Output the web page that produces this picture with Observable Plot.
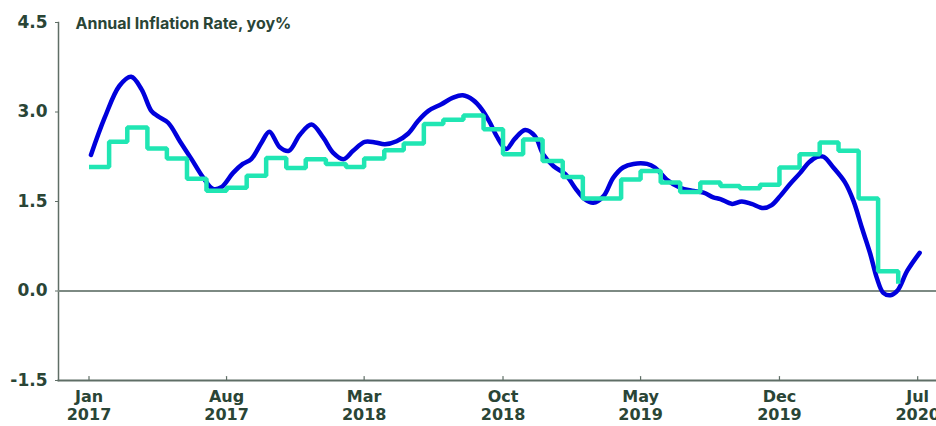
<!DOCTYPE html>
<html>
<head>
<meta charset="utf-8">
<script src="https://cdn.jsdelivr.net/npm/d3@7"></script>
<script src="https://cdn.jsdelivr.net/npm/@observablehq/plot@0.6"></script>
<style>
  html, body { margin: 0; padding: 0; background: #ffffff; }
  #chart svg { display: block; }
</style>
</head>
<body>
<div id="chart"></div>
<script>
// ---- Data ----
const chartTitle = "Annual Inflation Rate, yoy%";

// Monthly CPI yoy (step series), value in effect from each month start
const cpiMonths = [
  "2017-01","2017-02","2017-03","2017-04","2017-05","2017-06","2017-07","2017-08","2017-09","2017-10","2017-11","2017-12",
  "2018-01","2018-02","2018-03","2018-04","2018-05","2018-06","2018-07","2018-08","2018-09","2018-10","2018-11","2018-12",
  "2019-01","2019-02","2019-03","2019-04","2019-05","2019-06","2019-07","2019-08","2019-09","2019-10","2019-11","2019-12",
  "2020-01","2020-02","2020-03","2020-04","2020-05","2020-06"
];
const cpiValues = [
  2.08, 2.50, 2.74, 2.39, 2.22, 1.88, 1.68, 1.73, 1.93, 2.23, 2.06, 2.21,
  2.13, 2.08, 2.22, 2.36, 2.47, 2.80, 2.87, 2.94, 2.71, 2.29, 2.54, 2.18,
  1.91, 1.55, 1.55, 1.87, 2.01, 1.82, 1.66, 1.82, 1.76, 1.72, 1.78, 2.07,
  2.29, 2.49, 2.35, 1.55, 0.33, 0.12
];

const smoothDates = [
  "2017-01-04","2017-01-25","2017-02-17","2017-03-07","2017-03-23","2017-04-07","2017-04-17","2017-05-03",
  "2017-05-21","2017-06-08","2017-06-26","2017-07-11","2017-07-24","2017-08-11","2017-08-26","2017-09-08",
  "2017-09-24","2017-10-06","2017-10-22","2017-11-05","2017-11-22","2017-12-10","2017-12-28","2018-01-12",
  "2018-01-28","2018-02-12","2018-03-02","2018-03-18","2018-04-02","2018-04-20","2018-05-08","2018-05-23",
  "2018-06-08","2018-06-28","2018-07-16","2018-07-31","2018-08-16","2018-08-29","2018-09-11","2018-09-21",
  "2018-10-06","2018-10-19","2018-11-04","2018-11-19","2018-12-02","2018-12-18","2019-01-05","2019-01-20",
  "2019-02-04","2019-02-17","2019-03-05","2019-03-20","2019-04-04","2019-04-20","2019-05-11","2019-05-23",
  "2019-06-10","2019-07-01","2019-07-19","2019-08-06","2019-08-21","2019-09-01","2019-09-19","2019-10-04",
  "2019-10-19","2019-11-06","2019-11-19","2019-12-02","2019-12-17","2020-01-02","2020-01-15","2020-01-28",
  "2020-02-07","2020-02-22","2020-03-11","2020-03-24","2020-04-06","2020-04-19","2020-04-29","2020-05-09",
  "2020-05-20","2020-05-31","2020-06-15","2020-07-04"
];
const smoothValues = [
  2.28, 2.90, 3.44, 3.59, 3.38, 3.02, 2.93, 2.82,
  2.51, 2.21, 1.90, 1.71, 1.74, 1.98, 2.13, 2.21,
  2.49, 2.67, 2.41, 2.35, 2.62, 2.79, 2.57, 2.32,
  2.21, 2.35, 2.50, 2.49, 2.46, 2.51, 2.64, 2.85,
  3.02, 3.13, 3.24, 3.28, 3.20, 3.05, 2.82, 2.60,
  2.38, 2.55, 2.70, 2.60, 2.29, 2.09, 1.96, 1.73,
  1.54, 1.48, 1.59, 1.90, 2.07, 2.13, 2.13, 2.07,
  1.87, 1.73, 1.68, 1.65, 1.57, 1.54, 1.46, 1.50,
  1.46, 1.39, 1.44, 1.59, 1.79, 1.98, 2.15, 2.25,
  2.25, 2.07, 1.82, 1.51, 1.06, 0.62, 0.22, -0.03,
  -0.07, 0.01, 0.34, 0.64
];

const xTickDates = ["2017-01-01","2017-08-01","2018-03-01","2018-10-01","2019-05-01","2019-12-01","2020-07-01"];
const monthNames = ["Jan","Feb","Mar","Apr","May","Jun","Jul","Aug","Sep","Oct","Nov","Dec"];
const yTicks = [-1.5, 0, 1.5, 3.0, 4.5];
const xDomain = ["2016-11-15", "2020-07-30"];
const yDomain = [-1.5, 4.5];

// ---- Build ----
const toDate = s => new Date((s.length === 7 ? s + "-01" : s) + "T00:00:00Z");
const cpi = cpiMonths.map((m, i) => ({date: toDate(m), value: cpiValues[i]}));
const smooth = smoothDates.map((d, i) => ({date: toDate(d), value: smoothValues[i]}));
const xTicks = xTickDates.map(toDate);

const ink = "#2a4536";
const axisColor = "#5f6e66";
const blue = "#0000dc";
const green = "#20e6b3";

const tickUp = { draw(context, l) { context.moveTo(0, 0); context.lineTo(0, -l); } };

const chart = Plot.plot({
  width: 936,
  height: 426,
  marginLeft: 58,
  marginRight: 0,
  marginTop: 22,
  marginBottom: 46,
  style: {
    fontFamily: "'DejaVu Sans', sans-serif",
    fontSize: "16px",
    fontWeight: "bold",
    color: ink,
    background: "#ffffff",
    overflow: "visible"
  },
  x: {type: "utc", domain: xDomain.map(toDate)},
  y: {domain: yDomain},
  marks: [
    Plot.frame({anchor: "left", stroke: axisColor, strokeWidth: 1.5}),
    Plot.ruleY([0], {stroke: "#7d8a83", strokeWidth: 2}),
    Plot.frame({anchor: "bottom", stroke: axisColor, strokeWidth: 2}),
    Plot.axisY({
      ticks: yTicks,
      tickFormat: d => d.toFixed(1),
      tickSize: 3,
      tickPadding: 8,
      stroke: axisColor,
      fill: ink,
      fontSize: 17,
      fontWeight: "bold",
      letterSpacing: "0.6px",
      label: null
    }),
    Plot.axisX({
      ticks: xTicks,
      tickFormat: d => `${monthNames[d.getUTCMonth()]}\n${d.getUTCFullYear()}`,
      tickSize: 0,
      tickPadding: 8,
      lineHeight: 1.16,
      fill: ink,
      fontSize: 16,
      fontWeight: "bold",
      label: null
    }),
    Plot.vector(xTicks, {
      x: d => d,
      frameAnchor: "bottom",
      length: 4,
      anchor: "start",
      shape: tickUp,
      stroke: axisColor,
      strokeWidth: 1.2
    }),
    Plot.line(smooth, {
      x: "date", y: "value",
      curve: "catmull-rom",
      stroke: blue, strokeWidth: 4.5,
      strokeLinejoin: "round", strokeLinecap: "round"
    }),
    Plot.line(cpi, {
      x: "date", y: "value",
      curve: "step-after",
      stroke: green, strokeWidth: 4.5,
      strokeLinejoin: "miter", strokeLinecap: "butt"
    }),
    Plot.text([chartTitle], {
      frameAnchor: "top-left",
      dx: 17,
      dy: 1,
      lineAnchor: "middle",
      textAnchor: "start",
      fontFamily: "Inter, 'Liberation Sans', sans-serif",
      fontWeight: 700,
      fontSize: 16,
      letterSpacing: "-0.3px",
      fill: ink
    })
  ]
});

document.getElementById("chart").append(chart);
</script>
</body>
</html>
